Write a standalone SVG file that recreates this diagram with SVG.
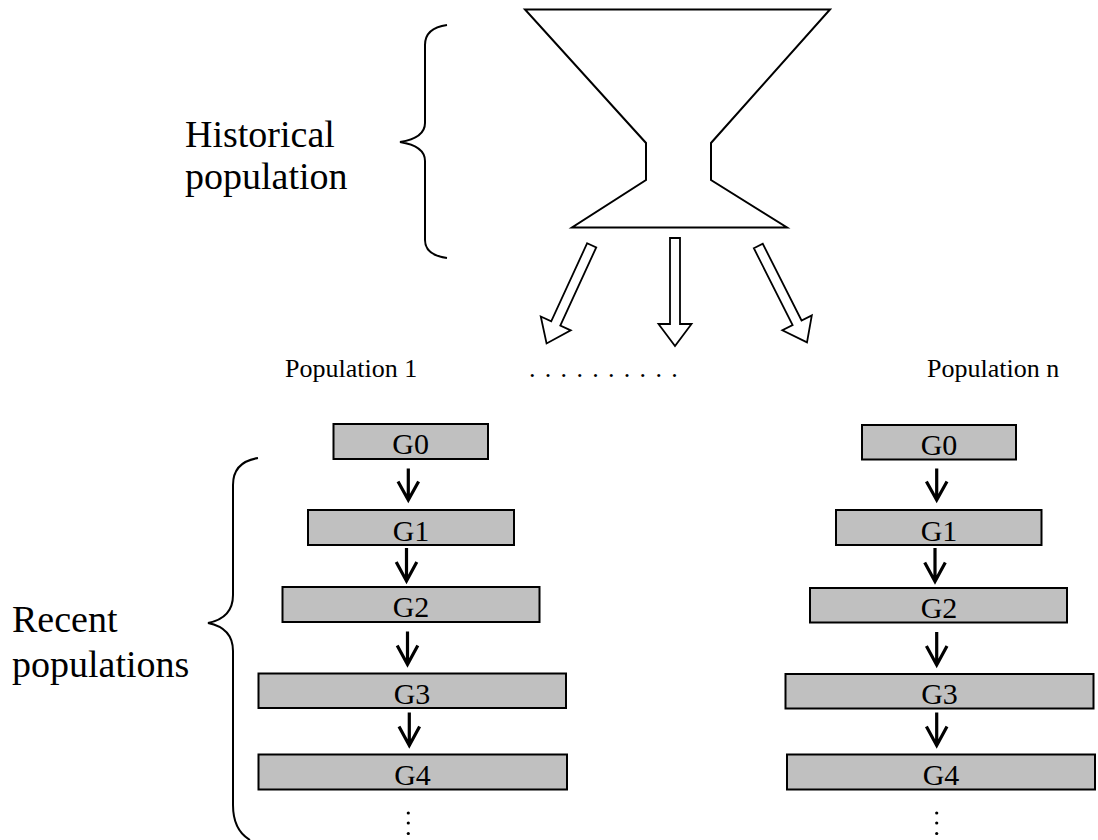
<svg xmlns="http://www.w3.org/2000/svg" xmlns:xlink="http://www.w3.org/1999/xlink" width="1098" height="840" viewBox="0 0 1098 840">
<style>
.lbl{font-family:"Liberation Serif","Times New Roman",serif;fill:#000}
.big{font-size:38px}
.mid{font-size:26px}
.g{font-size:30px;text-anchor:middle}
.box{fill:#c0c0c0;stroke:#000;stroke-width:2}
.brace{fill:none;stroke:#000;stroke-width:2}
.conn{fill:none;stroke:#000;stroke-width:3.2}
.bigarrow{fill:#fff;stroke:#000;stroke-width:1.8;stroke-linejoin:miter}
.dot{fill:#000}
</style>
<defs>
<polygon id="hollow" points="-5,0 5,0 5,86 16.5,86 0,108 -16.5,86 -5,86"/>
</defs>
<rect width="1098" height="840" fill="#fff"/>

<g id="funnel">
<polygon points="525,9.5 830,9.5 711,143 711,180 787,227.5 572,227.5 646,180 646,143" fill="#fff" stroke="#000" stroke-width="2"/>
</g>

<g id="historical-label">
<path class="brace" d="M447,25 Q425,28 425,45 L425,123 Q425,138 400,142 Q425,146 425,161 L425,240 Q425,255 447,258"/>
<text class="lbl big" x="185" y="147">Historical</text>
<text class="lbl big" x="185" y="189">population</text>
</g>

<g id="recent-label">
<path class="brace" d="M258,458 Q233,462 233,485 L233,595 Q233,618 208,623 Q233,628 233,651 L233,805 Q233,830 250,840"/>
<text class="lbl big" x="12" y="632">Recent</text>
<text class="lbl big" x="12" y="677">populations</text>
</g>

<g id="titles">
<text class="lbl mid" x="285" y="377">Population 1</text>
<text class="lbl mid" x="529" y="377" letter-spacing="1.4">. . . . . . . . . .</text>
<text class="lbl mid" x="927" y="377">Population n</text>
</g>

<g id="pop1">
<g id="p1-g0"><rect class="box" x="333.5" y="424" width="154.5" height="35"/><text class="lbl g" x="410.7" y="454">G0</text></g>
<g id="p1-g1"><rect class="box" x="308" y="510" width="206" height="35"/><text class="lbl g" x="411" y="540.5">G1</text></g>
<g id="p1-g2"><rect class="box" x="282.5" y="587" width="257" height="35"/><text class="lbl g" x="411" y="617">G2</text></g>
<g id="p1-g3"><rect class="box" x="258.5" y="673.5" width="307.5" height="34.5"/><text class="lbl g" x="412" y="703.5">G3</text></g>
<g id="p1-g4"><rect class="box" x="258.5" y="754.5" width="308.5" height="35"/><text class="lbl g" x="412.5" y="784.5">G4</text></g>
<g id="p1-more"><circle class="dot" cx="408.3" cy="813" r="1.6"/><circle class="dot" cx="408.3" cy="823" r="1.6"/><circle class="dot" cx="408.3" cy="833.5" r="1.6"/></g>
</g>

<g id="popn">
<g id="pn-g0"><rect class="box" x="862" y="425" width="154" height="34.5"/><text class="lbl g" x="939" y="454.5">G0</text></g>
<g id="pn-g1"><rect class="box" x="836" y="510" width="205.5" height="35"/><text class="lbl g" x="939" y="540.5">G1</text></g>
<g id="pn-g2"><rect class="box" x="810" y="588" width="257" height="34.5"/><text class="lbl g" x="939" y="618">G2</text></g>
<g id="pn-g3"><rect class="box" x="785.5" y="674" width="308" height="34.5"/><text class="lbl g" x="939.5" y="704">G3</text></g>
<g id="pn-g4"><rect class="box" x="787" y="754.5" width="308" height="35"/><text class="lbl g" x="941" y="784.5">G4</text></g>
<g id="pn-more"><circle class="dot" cx="936.7" cy="813" r="1.6"/><circle class="dot" cx="936.7" cy="823" r="1.6"/><circle class="dot" cx="936.7" cy="833.5" r="1.6"/></g>
</g>

<g id="connectors">
<use href="#hollow" xlink:href="#hollow" class="bigarrow" transform="translate(591.7,245.3) rotate(24.7)"/>
<use href="#hollow" xlink:href="#hollow" class="bigarrow" transform="translate(675,238)"/>
<use href="#hollow" xlink:href="#hollow" class="bigarrow" transform="translate(758.3,246) rotate(-26.8)"/>
<path class="conn" d="M408.3,468.5 L408.3,500 M398,481.5 L408.3,500 L418.6,481.5"/>
<path class="conn" d="M406.5,548 L406.5,581 M396.2,562 L406.5,581 L416.8,562"/>
<path class="conn" d="M407.5,631.5 L407.5,664.5 M397.2,645.5 L407.5,664.5 L417.8,645.5"/>
<path class="conn" d="M409.3,712.5 L409.3,745.5 M399,726.5 L409.3,745.5 L419.6,726.5"/>
<path class="conn" d="M936.7,468.5 L936.7,500 M926.4,481.5 L936.7,500 L947,481.5"/>
<path class="conn" d="M935,548 L935,581.5 M924.7,562.5 L935,581.5 L945.3,562.5"/>
<path class="conn" d="M936.7,632 L936.7,665 M926.4,646 L936.7,665 L947,646"/>
<path class="conn" d="M936.7,712.5 L936.7,745.5 M926.4,726.5 L936.7,745.5 L947,726.5"/>
</g>
</svg>
